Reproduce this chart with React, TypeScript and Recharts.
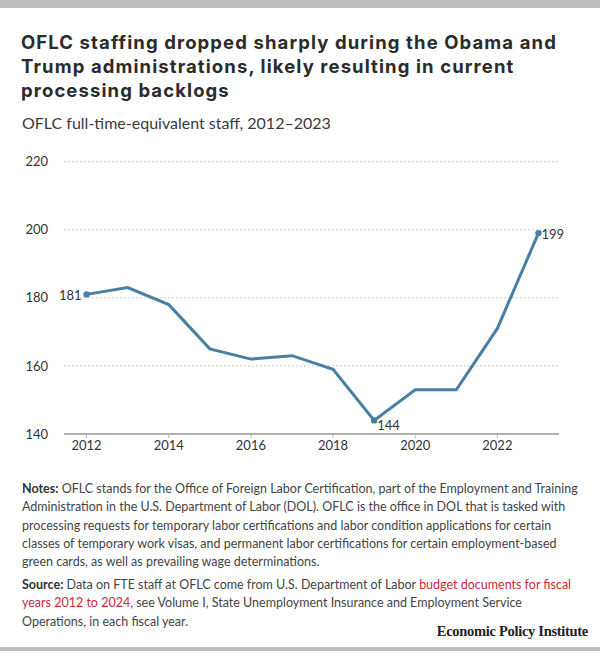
import React from "react";
import { LineChart, Line, XAxis, YAxis, CartesianGrid } from "recharts";

// OFLC full-time-equivalent staff by fiscal year
const years = [2012, 2013, 2014, 2015, 2016, 2017, 2018, 2019, 2020, 2021, 2022, 2023];
const staff = [181, 183, 178, 165, 162, 163, 159, 144, 153, 153, 171, 199];
const labeledYears = [2012, 2019, 2023];
const xTicks = [2012, 2014, 2016, 2018, 2020, 2022];
const yTicks = [140, 160, 180, 200, 220];

const data = years.map((year, i) => ({ year, staff: staff[i] }));

const FONT = "Lato, 'Open Sans', sans-serif";
const LINE = "#4a7fa4";
const TEXT = "#333";

function renderDot(props: any) {
  const { cx, cy, payload, index } = props;
  if (!labeledYears.includes(payload.year)) return <g key={index} />;
  return <circle key={index} cx={cx} cy={cy} r={3.2} fill={LINE} />;
}

function renderLabel(props: any) {
  const { x, y, value, index } = props;
  const year = years[index];
  if (!labeledYears.includes(year)) return null;
  const left = year === 2012;
  const dy = year === 2019 ? 6 : year === 2023 ? 3 : 2;
  return (
    <text
      key={index}
      x={left ? x - 5 : x + 3}
      y={y + dy}
      textAnchor={left ? "end" : "start"}
      dominantBaseline="middle"
      fontSize={13}
      fontFamily={FONT}
      fill={TEXT}
    >
      {value}
    </text>
  );
}

export default function App() {
  return (
    <div
      style={{
        position: "absolute",
        top: 0,
        left: 0,
        width: 600,
        height: 672,
        background: "#fff",
        fontFamily: FONT,
        color: TEXT,
      }}
    >
      <div style={{ position: "absolute", top: 0, left: 0, width: 600, height: 8, background: "#bdbdbd" }} />
      <div
        style={{
          position: "absolute",
          top: 30.3,
          left: 21,
          width: 575,
          fontFamily: "Inter, 'Open Sans', sans-serif",
          fontSize: 18.5,
          lineHeight: "24px",
          letterSpacing: 1.1,
          fontWeight: 700,
          color: "#2b2b2b",
          whiteSpace: "nowrap",
        }}
      >
        OFLC staffing dropped sharply during the Obama and
        <br />
        Trump administrations, likely resulting in current
        <br />
        processing backlogs
      </div>
      <div style={{ position: "absolute", top: 112, left: 22, fontSize: 16, lineHeight: "22px", color: "#3a3a3a" }}>
        OFLC full-time-equivalent staff, 2012–2023
      </div>

      <div style={{ position: "absolute", top: 150, left: 0 }}>
        <LineChart width={600} height={310} data={data} margin={{ top: 11.6, right: 41, bottom: 0, left: 0 }}>
          <CartesianGrid
            vertical={false}
            stroke="#d6d6d6"
            strokeWidth={1.6}
            strokeDasharray="1.6 2.4"
          />
          <XAxis
            dataKey="year"
            type="number"
            domain={[2011.45, 2023.5]}
            ticks={xTicks}
            height={26}
            tickSize={4}
            tickMargin={3}
            axisLine={{ stroke: "#b0b0b0", strokeWidth: 2 }}
            tickLine={{ stroke: "#b0b0b0", strokeWidth: 1 }}
            tick={{ fontSize: 13, fill: TEXT, fontFamily: FONT }}
          />
          <YAxis
            domain={[140, 220]}
            ticks={yTicks}
            width={64}
            axisLine={false}
            tickLine={false}
            tickSize={0}
            tickMargin={16}
            tick={{ fontSize: 13, fill: TEXT, fontFamily: FONT }}
          />
          <Line
            dataKey="staff"
            stroke={LINE}
            strokeWidth={3}
            dot={renderDot}
            activeDot={false}
            label={renderLabel}
            isAnimationActive={false}
          />
        </LineChart>
      </div>

      <div
        style={{
          position: "absolute",
          top: 480,
          left: 22,
          width: 570,
          fontSize: 12.5,
          lineHeight: "18.3px",
          color: "#444",
          whiteSpace: "nowrap",
        }}
      >
        <b style={{ color: "#333" }}>Notes:</b> OFLC stands for the Office of Foreign Labor Certification, part of the Employment and Training
        <br />
        Administration in the U.S. Department of Labor (DOL). OFLC is the office in DOL that is tasked with
        <br />
        processing requests for temporary labor certifications and labor condition applications for certain
        <br />
        classes of temporary work visas, and permanent labor certifications for certain employment-based
        <br />
        green cards, as well as prevailing wage determinations.
      </div>
      <div
        style={{
          position: "absolute",
          top: 576,
          left: 22,
          width: 570,
          fontSize: 12.5,
          lineHeight: "18.3px",
          color: "#444",
          whiteSpace: "nowrap",
        }}
      >
        <b style={{ color: "#333" }}>Source:</b> Data on FTE staff at OFLC come from U.S. Department of Labor{" "}
        <span style={{ color: "#d0283a" }}>budget documents for fiscal</span>
        <br />
        <span style={{ color: "#d0283a" }}>years 2012 to 2024</span>, see Volume I, State Unemployment Insurance and Employment Service
        <br />
        Operations, in each fiscal year.
      </div>
      <div
        style={{
          position: "absolute",
          top: 623,
          right: 12,
          fontFamily: "'Liberation Serif', 'DejaVu Serif', serif",
          fontWeight: 700,
          fontSize: 14.5,
          letterSpacing: -0.3,
          color: "#222",
        }}
      >
        Economic Policy Institute
      </div>
      <div style={{ position: "absolute", top: 647, left: 0, width: 600, height: 4, background: "#bdbdbd" }} />
    </div>
  );
}
